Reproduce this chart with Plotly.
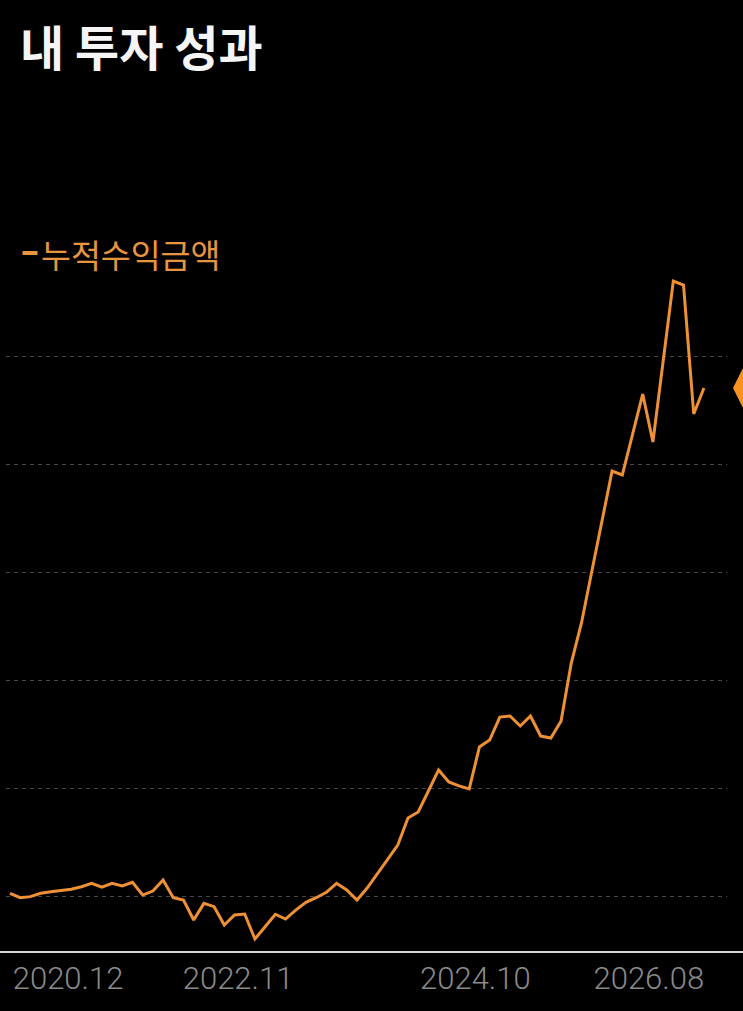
import plotly.graph_objects as go

# ---- data (y in arbitrary units, gridline step = 1000) ----
values = [25, -16, -6, 25, 40, 49, 62, 86, 118, 81,
          118, 93, 127, 9, 46, 148, -16, -37, -222, -68,
          -99, -269, -176, -167, -398, -284, -169, -213, -130, -58,
          -16, 34, 118, 56, -37, 74, 204, 333, 472, 722,
          778, 972, 1167, 1056, 1019, 991, 1380, 1444, 1657, 1667,
          1574, 1667, 1481, 1463, 1620, 2157, 2528, 3000, 3463, 3935,
          3898, 4278, 4648, 4204, 4954, 5694, 5657, 4463, 4704]
x_index = list(range(len(values)))
tick_positions = [5.69, 22.35, 45.6, 62.6]
tick_labels = ["2020.12", "2022.11", "2024.10", "2026.08"]
grid_values = [0, 1000, 2000, 3000, 4000, 5000]
series_name = "누적수익금액"
title_text = "내 투자 성과"

# ---- style ----
W, H = 743, 1011
ML, MR, MT, MB = 6, 16, 260, 59
LINE_COLOR = "#EE9035"
TEXT_ORANGE = "#E8953F"
DIAMOND_COLOR = "#F7931E"
X_RANGE = [-0.392, 70.26]
Y_RANGE = [-518.5, 5888.9]
plot_w = W - ML - MR
plot_h = H - MT - MB

fig = go.Figure()
fig.add_trace(go.Scatter(
    x=x_index, y=values, mode="lines", name=series_name,
    line=dict(color=LINE_COLOR, width=3), showlegend=False,
))

def px_x(p):
    return (p - ML) / plot_w

def px_y(p):
    return (H - MB - p) / plot_h

fig.update_layout(
    width=W, height=H, autosize=False,
    margin=dict(l=ML, r=MR, t=MT, b=MB),
    paper_bgcolor="black", plot_bgcolor="black",
    title=dict(
        text=title_text, xref="container", yref="container",
        x=20 / W, xanchor="left", y=1 - 49 / H, yanchor="middle",
        font=dict(family="Noto Sans CJK KR", size=48, color="#F5F5F5", weight="bold"),
    ),
    xaxis=dict(
        range=X_RANGE, showgrid=False, zeroline=False, showline=False,
        tickmode="array", tickvals=tick_positions, ticktext=tick_labels,
        ticks="", ticklabelstandoff=5,
        tickfont=dict(family="Roboto", size=31, color="#8A8A8A", weight=300),
        fixedrange=True,
    ),
    yaxis=dict(
        range=Y_RANGE, showgrid=True, gridcolor="#474747", gridwidth=1,
        griddash="4px,4px", zeroline=False, showline=False,
        tickmode="array", tickvals=grid_values, showticklabels=False, ticks="",
        fixedrange=True,
    ),
    showlegend=False,
)

# current-value indicator (diamond) at the right edge, at the last value
units_per_px = (Y_RANGE[1] - Y_RANGE[0]) / plot_h
last = values[-1]
half_h = 20 * units_per_px
cx, hw = px_x(W), 10 / plot_w
fig.add_shape(
    type="path", xref="paper", yref="y",
    path=(f"M {cx - hw},{last} L {cx},{last + half_h} "
          f"L {cx + hw},{last} L {cx},{last - half_h} Z"),
    fillcolor=DIAMOND_COLOR, line=dict(width=0), layer="above",
)

# legend-like label
fig.add_shape(type="line", xref="paper", yref="paper",
              x0=px_x(22.5), x1=px_x(37.5), y0=px_y(253), y1=px_y(253),
              line=dict(color=TEXT_ORANGE, width=4))
fig.add_annotation(text=series_name, xref="paper", yref="paper",
                   x=px_x(39), y=px_y(253), xanchor="left", yanchor="middle",
                   showarrow=False,
                   font=dict(family="Noto Sans CJK KR", size=32.5, color=TEXT_ORANGE))
# bottom axis line spanning full width
fig.add_shape(type="line", xref="paper", yref="paper",
              x0=px_x(0), x1=px_x(W), y0=0, y1=0,
              line=dict(color="#D8D8D8", width=2))

fig.write_html(
    "out.html",
    config={"responsive": False, "displayModeBar": False},
    post_script="document.body.style.margin='0';document.body.style.background='black';",
)
